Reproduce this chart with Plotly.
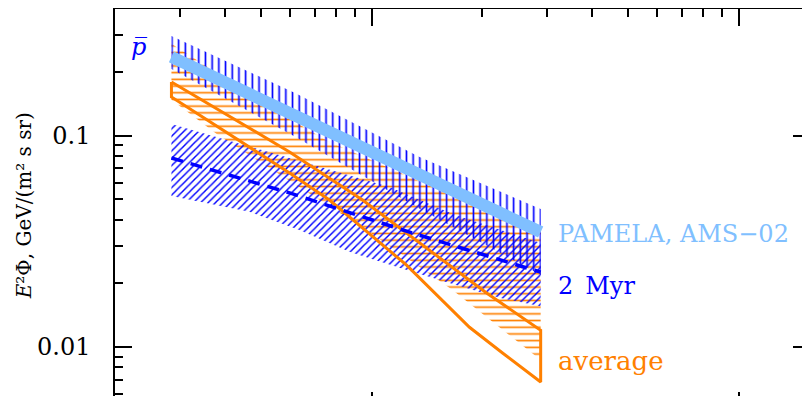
import plotly.graph_objects as go

# ---------------- data (energy in GeV, flux E^2*Phi in GeV/(m^2 s sr)) ----------------
# PAMELA / AMS-02 antiproton fit (thick light-blue line)
pamela_E = [2.85, 5.0, 10.0, 28.9]
pamela_F = [0.236, 0.149, 0.084, 0.035]

# band with vertical hatching (blue)
vband_E_up = [2.85, 6.21, 13.52, 28.9]
vband_F_up = [0.296, 0.159, 0.0793, 0.0450]
vband_E_lo = [2.85, 3.44, 6.21, 13.26, 28.9]
vband_F_lo = [0.207, 0.174, 0.0986, 0.0460, 0.0219]

# band with horizontal hatching (orange)
hband_E_up = [2.85, 5.62, 7.59, 15.32, 28.9]
hband_F_up = [0.272, 0.128, 0.0944, 0.0553, 0.0350]
hband_E_lo = [2.85, 3.81, 9.69, 16.62, 28.9]
hband_F_lo = [0.148, 0.101, 0.0358, 0.0186, 0.00868]

# "average" outline (orange)
avg_E_up = [2.85, 5.98, 9.45, 20.58, 28.9]
avg_F_up = [0.1795, 0.0838, 0.0496, 0.0180, 0.0120]
avg_E_lo = [2.85, 5.98, 7.68, 12.46, 18.49, 22.75, 28.9]
avg_F_lo = [0.1525, 0.0666, 0.0496, 0.0244, 0.0124, 0.00937, 0.00683]

# 2 Myr band (blue diagonal hatching) and its central dashed curve
myr_E_up = [2.85, 4.03, 5.98, 11.19, 16.84, 28.9]
myr_F_up = [0.1136, 0.0954, 0.0784, 0.0572, 0.0422, 0.0311]
myr_E_lo = [2.85, 4.65, 6.36, 8.71, 11.92, 16.31, 22.33, 28.9]
myr_F_lo = [0.0518, 0.0436, 0.0358, 0.0282, 0.0237, 0.0201, 0.0171, 0.0156]
myr_E_mid = [2.85, 5.98, 12.93, 28.9]
myr_F_mid = [0.0784, 0.0536, 0.0346, 0.0226]

# axes
x_range_log = [0.30103, 2.19475]
y_range_log = [-2.2319, -0.4004]
x_major = [10, 100]
x_minor = [3, 4, 5, 6, 7, 8, 9, 20, 30, 40, 50, 60, 70, 80, 90]
y_major = [0.01, 0.1]
y_major_text = ["0.01", "0.1"]
y_minor = [0.006, 0.007, 0.008, 0.009, 0.02, 0.03, 0.04, 0.05, 0.06, 0.07, 0.08, 0.09, 0.2, 0.3]

BLUE = "#0000ff"
LIGHTBLUE = "#80bfff"
ORANGE = "#ff8000"
FONT = "DejaVu Serif"


def band(xu, yu, xl, yl):
    return xu + xl[::-1] + [xu[0]], yu + yl[::-1] + [yu[0]]


def hatch(shape, color, size, solidity):
    return dict(shape=shape, fgcolor=color, bgcolor="rgba(0,0,0,0)", fgopacity=1,
                size=size, solidity=solidity, fillmode="overlay")


fig = go.Figure()

# orange horizontal hatch
bx, by = band(hband_E_up, hband_F_up, hband_E_lo, hband_F_lo)
fig.add_trace(go.Scatter(x=bx, y=by, mode="lines", fill="toself", line=dict(width=0),
                         fillcolor="rgba(0,0,0,0)", fillpattern=hatch("-", ORANGE, 6.7, 0.25),
                         hoverinfo="skip", showlegend=False))

# blue diagonal hatch (2 Myr)
bx, by = band(myr_E_up, myr_F_up, myr_E_lo, myr_F_lo)
fig.add_trace(go.Scatter(x=bx, y=by, mode="lines", fill="toself", line=dict(width=0),
                         fillcolor="rgba(0,0,0,0)", fillpattern=hatch("/", BLUE, 5.2, 0.28),
                         hoverinfo="skip", showlegend=False))

# blue vertical hatch
bx, by = band(vband_E_up, vband_F_up, vband_E_lo, vband_F_lo)
fig.add_trace(go.Scatter(x=bx, y=by, mode="lines", fill="toself", line=dict(width=0),
                         fillcolor="rgba(0,0,0,0)", fillpattern=hatch("|", BLUE, 6.7, 0.25),
                         hoverinfo="skip", showlegend=False))

# average outline
ox, oy = band(avg_E_up, avg_F_up, avg_E_lo, avg_F_lo)
fig.add_trace(go.Scatter(x=ox, y=oy, mode="lines", line=dict(color=ORANGE, width=3),
                         hoverinfo="skip", showlegend=False))

# dashed 2 Myr central curve
fig.add_trace(go.Scatter(x=myr_E_mid, y=myr_F_mid, mode="lines",
                         line=dict(color=BLUE, width=3.5, dash="12px,8px"),
                         hoverinfo="skip", showlegend=False))

# PAMELA / AMS-02 thick line
fig.add_trace(go.Scatter(x=pamela_E, y=pamela_F, mode="lines",
                         line=dict(color=LIGHTBLUE, width=12),
                         hoverinfo="skip", showlegend=False))

# helper trace for bottom axis
fig.add_trace(go.Scatter(x=[10], y=[0.1], xaxis="x2", mode="markers",
                         marker=dict(opacity=0), hoverinfo="skip", showlegend=False))

axis_common = dict(showgrid=False, zeroline=False)

fig.update_layout(
    width=802, height=388,
    margin=dict(l=107, r=0, t=1, b=0, autoexpand=False),
    paper_bgcolor="white", plot_bgcolor="white",
    xaxis=dict(type="log", range=x_range_log, side="top", showline=True,
               linecolor="black", linewidth=1.5,
               ticks="inside", ticklen=17, tickwidth=1.5, tickcolor="black",
               tickmode="array", tickvals=x_major, showticklabels=False,
               minor=dict(ticks="inside", ticklen=8, tickwidth=1.5, tickcolor="black",
                          tickmode="array", tickvals=x_minor, showgrid=False),
               **axis_common),
    xaxis2=dict(type="log", range=x_range_log, overlaying="x", side="bottom", anchor="y",
                showline=False, ticks="inside", ticklen=4, tickwidth=1.5, tickcolor="black",
                tickmode="array", tickvals=x_major, showticklabels=False, **axis_common),
    yaxis=dict(type="log", range=y_range_log, showline=True, linecolor="black", linewidth=1.5,
               mirror="ticks", ticks="inside", ticklen=17, tickwidth=1.5, tickcolor="black",
               tickmode="array", tickvals=y_major, ticktext=y_major_text,
               tickfont=dict(family=FONT, size=24, color="black"),
               ticklabelstandoff=18,
               minor=dict(ticks="inside", ticklen=8, tickwidth=1.5, tickcolor="black",
                          tickmode="array", tickvals=y_minor, showgrid=False),
               **axis_common),
    showlegend=False,
)

annotations = [
    dict(text="<i>E</i>²Φ, GeV/(m² s sr)", x=-0.131, y=0.4926, textangle=-90,
         font=dict(family=FONT, size=20, color="black")),
    dict(text="<i>p\u0305</i>", x=0.0201, y=0.902, xanchor="left",
         font=dict(family=FONT, size=24, color=BLUE)),
    dict(text="PAMELA, AMS\u221202", x=0.635, y=0.4175, xanchor="left",
         font=dict(family=FONT, size=24, color=LIGHTBLUE)),
    dict(text="2\u2002Myr", x=0.635, y=0.2835, xanchor="left",
         font=dict(family=FONT, size=24, color=BLUE)),
    dict(text="average", x=0.635, y=0.0902, xanchor="left",
         font=dict(family=FONT, size=26, color=ORANGE)),
]
for a in annotations:
    a.setdefault("xanchor", "center")
    fig.add_annotation(xref="paper", yref="paper", showarrow=False, yanchor="middle", **a)

fig.write_html("out.html")
